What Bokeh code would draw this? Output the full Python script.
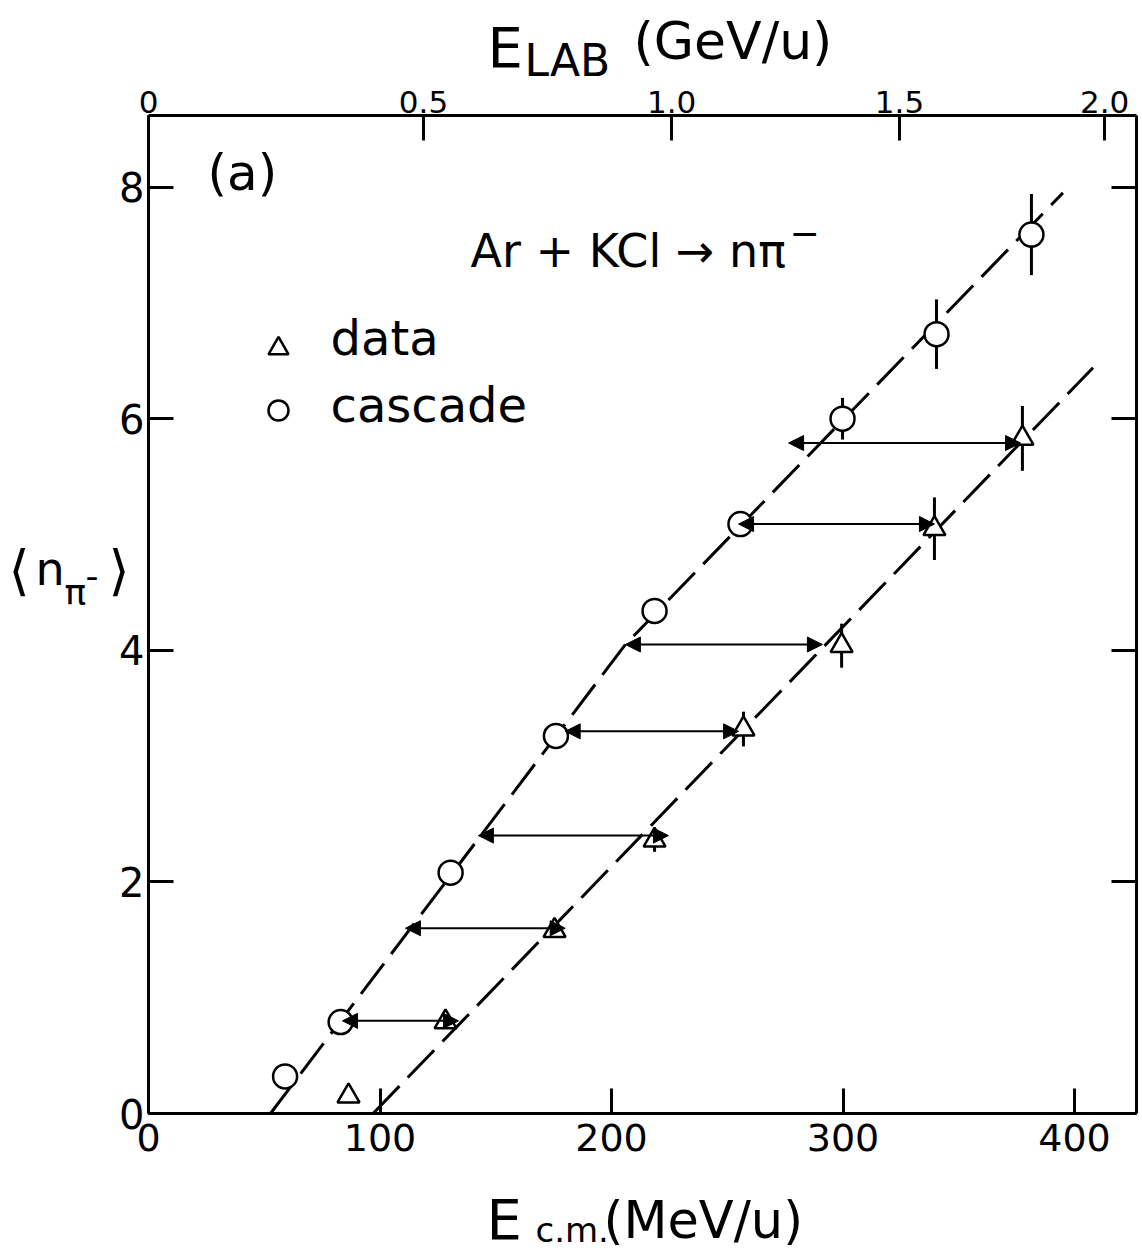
import numpy as np
from bokeh.plotting import figure
from bokeh.models import (Range1d, LinearAxis, FixedTicker, Label, Arrow,
                          NormalHead, ColumnDataSource)
from bokeh.embed import file_html
from bokeh.resources import INLINE

# ---------------- data ----------------
cascade_x = [59.0, 83.0, 130.5, 176.0, 218.6, 255.7, 299.8, 340.4, 381.4]
cascade_y = [0.32, 0.79, 2.08, 3.26, 4.34, 5.09, 6.00, 6.73, 7.59]
cascade_err = [0.0, 0.0, 0.0, 0.0, 0.0, 0.05, 0.18, 0.30, 0.35]

data_x = [86.4, 128.3, 175.4, 218.6, 257.0, 299.4, 339.5, 377.5]
data_y = [0.15, 0.79, 1.58, 2.36, 3.32, 4.04, 5.05, 5.83]
data_err = [0.0, 0.0, 0.0, 0.10, 0.15, 0.19, 0.27, 0.28]

arrow_y = [0.80, 1.60, 2.40, 3.30, 4.05, 5.09, 5.79]
arrow_from = [83.8, 111.0, 142.5, 180.0, 206.0, 254.9, 276.5]
arrow_to = [133.9, 180.0, 224.6, 254.9, 291.1, 339.5, 376.7]

cascade_line_x = [52.7, 206.0, 395.0]
cascade_line_y = [0.0, 4.05, 7.95]
data_line_x = [97.0, 408.0]
data_line_y = [0.0, 6.44]

ecm_ticks = [0, 100, 200, 300, 400]
n_ticks = [0, 2, 4, 6, 8]
elab_labels = ["0", "0.5", "1.0", "1.5", "2.0"]
elab_tick_ecm = [0.0, 118.8, 226.0, 324.4, 413.0]

box_x = (0.0, 426.8)     # E_cm extent of the plot box
box_y = (0.0, 8.62)      # <n> extent of the plot box

FONT = "DejaVu Sans"
W, H = 1142, 1255
SX, SY = 2.315, 115.8          # pixels per unit
OX, OY = 148.0, 1113.0         # pixel position of the (0, 0) corner


def X(px):
    return (px - OX) / SX


def Y(py):
    return (OY - py) / SY


# ---------------- figure ----------------
p = figure(width=W, height=H,
           x_range=Range1d(X(0), X(W)), y_range=Range1d(Y(H), Y(0)),
           output_backend="svg", toolbar_location=None,
           min_border=0, min_border_left=0, min_border_right=0,
           min_border_top=0, min_border_bottom=0,
           background_fill_color="white", border_fill_color="white")
p.grid.visible = False
p.outline_line_color = None


def style_axis(ax, size, standoff):
    ax.axis_line_color = "black"
    ax.axis_line_width = 3
    ax.major_tick_in = 25
    ax.major_tick_out = 0
    ax.major_tick_line_width = 3
    ax.minor_tick_line_color = None
    ax.major_label_text_font = FONT
    ax.major_label_text_font_size = size
    ax.major_label_text_color = "black"
    ax.major_label_standoff = standoff


bx = p.xaxis[0]
bx.ticker = FixedTicker(ticks=ecm_ticks)
bx.fixed_location = box_y[0]
bx.bounds = box_x
style_axis(bx, "38px", 10)

ly = p.yaxis[0]
ly.ticker = FixedTicker(ticks=n_ticks)
ly.fixed_location = box_x[0]
ly.bounds = box_y
style_axis(ly, "40px", 4)

top = LinearAxis(ticker=FixedTicker(ticks=elab_tick_ecm),
                 major_label_overrides={v: l for v, l in zip(elab_tick_ecm, elab_labels)},
                 fixed_location=box_y[1], bounds=box_x)
style_axis(top, "31px", 2)
p.add_layout(top, "above")

right = LinearAxis(ticker=FixedTicker(ticks=n_ticks), fixed_location=box_x[1],
                   bounds=box_y,
                   major_label_overrides={v: "" for v in n_ticks})
style_axis(right, "1px", 0)
p.add_layout(right, "right")

# ---------------- dashed lines ----------------
p.line(cascade_line_x, cascade_line_y, line_color="black", line_width=3,
       line_dash="38 12")
p.line(data_line_x, data_line_y, line_color="black", line_width=3,
       line_dash="38 12")

# ---------------- arrows ----------------
asrc = ColumnDataSource(dict(x0=arrow_from, x1=arrow_to, y=arrow_y))
p.add_layout(Arrow(source=asrc, x_start="x0", y_start="y", x_end="x1", y_end="y",
                   line_width=2, line_color="black",
                   start=NormalHead(size=15, fill_color="black", line_color="black"),
                   end=NormalHead(size=15, fill_color="black", line_color="black")))

# ---------------- error bars ----------------
cx = np.array(cascade_x); cy = np.array(cascade_y); ce = np.array(cascade_err)
dx = np.array(data_x); dy = np.array(data_y); de = np.array(data_err)
p.segment(cx, cy - ce, cx, cy + ce, line_color="black", line_width=3)
p.segment(dx, dy - de, dx, dy + de, line_color="black", line_width=3)

# ---------------- markers ----------------
p.scatter(cascade_x, cascade_y, marker="circle", size=24, fill_color="white",
          line_color="black", line_width=2.5)
p.scatter(data_x, data_y, marker="triangle", size=22, fill_color="white",
          line_color="black", line_width=2.5)

# legend markers
p.scatter([X(278)], [Y(348)], marker="triangle", size=20, fill_color="white",
          line_color="black", line_width=2.5)
p.scatter([X(278)], [Y(410)], marker="circle", size=20, fill_color="white",
          line_color="black", line_width=2.5)


def lab(px, py, t, size, align="left"):
    p.add_layout(Label(x=X(px), y=Y(py), text=t, text_font=FONT,
                       text_font_size=size, text_color="black",
                       text_align=align, text_baseline="middle"))


lab(330, 337, "data", "48px")
lab(330, 404, "cascade", "48px")
lab(207, 172, "(a)", "50px")
lab(470, 250, "Ar + KCl \u2192 n\u03c0", "46px")
lab(789, 232, "\u2212", "36px")

# top title  E_LAB (GeV/u)
lab(487, 47, "E", "56px")
lab(524, 60, "LAB", "44px")
lab(633, 40, "(GeV/u)", "52px")

# bottom title  E_c.m. (MeV/u)
lab(486, 1219, "E", "56px")
lab(535, 1229, "c.m.", "34px")
lab(603, 1220, "(MeV/u)", "51px")

# y title  <n_pi->
lab(8, 570, "\u27e8", "54px")
lab(35, 568, "n", "46px")
lab(64, 592, "\u03c0", "36px")
lab(85, 574, "-", "36px")
lab(108, 570, "\u27e9", "54px")

open("out.html", "w").write(file_html(p, INLINE))
